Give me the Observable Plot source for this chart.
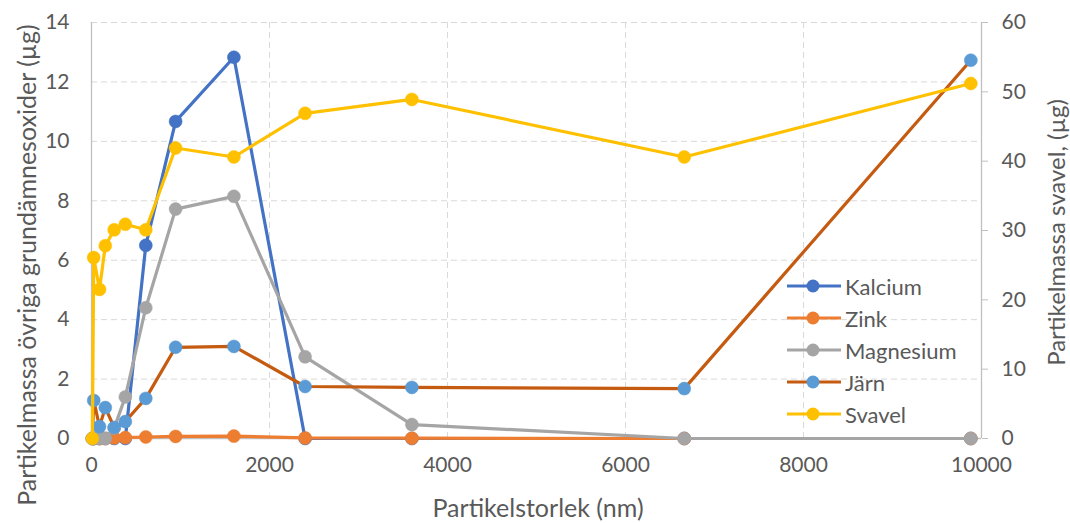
<!DOCTYPE html>
<html><head><meta charset="utf-8">
<script src="https://cdn.jsdelivr.net/npm/d3@7"></script>
<script src="https://cdn.jsdelivr.net/npm/@observablehq/plot@0.6"></script>
<style>
body{margin:0;background:#fff;}
#wrap{position:relative;width:1070px;height:523px;font-family:Lato,sans-serif;color:#595959;overflow:hidden;}
#legend{position:absolute;left:787px;top:270px;}
.item{display:flex;align-items:center;height:32px;font-size:22px;}
.item svg{margin-right:4px;}
.title{position:absolute;font-size:25px;white-space:nowrap;}
</style></head>
<body><div id="wrap"><div id="chart"></div><div id="legend"></div>
<div class="title" id="xt">Partikelstorlek (nm)</div>
<div class="title" id="yl">Partikelmassa övriga grundämnesoxider (µg)</div>
<div class="title" id="yr" style="font-size:24px">Partikelmassa svavel, (µg)</div>
</div>
<script>
// Data (particle size in nm)
const sizes = [10, 25, 90, 155, 255, 380, 610, 945, 1600, 2400, 3600, 6660, 9880];
const kalcium   = [0, 0, 0, 0, 0, 0, 6.5, 10.67, 12.83, 0, 0, 0, 0];
const zink      = [0, 0, 0, 0, 0.02, 0.03, 0.05, 0.07, 0.08, 0.02, 0.01, 0, 0];
const magnesium = [0, 0, 0, 0, 0.35, 1.4, 4.4, 7.72, 8.15, 2.75, 0.47, 0, 0];
const jarn      = [0, 1.28, 0.4, 1.04, 0.37, 0.57, 1.35, 3.07, 3.1, 1.75, 1.72, 1.68, 12.73];
const svavel    = [0, 26.1, 21.5, 27.8, 30.1, 30.9, 30.1, 41.9, 40.6, 46.9, 48.9, 40.6, 51.2]; // right axis

const seriesNames = ["Kalcium", "Zink", "Magnesium", "Järn", "Svavel"];
const seriesValues = [kalcium, zink, magnesium, jarn, svavel];
const lineColors = ["#4472C4", "#ED7D31", "#A5A5A5", "#C55A11", "#FFC000"];
const markerColors = ["#4472C4", "#ED7D31", "#A5A5A5", "#5B9BD5", "#FFC000"];
const secondary = [false, false, false, false, true];

const leftTicks = [0, 2, 4, 6, 8, 10, 12, 14];
const rightTicks = [0, 10, 20, 30, 40, 50, 60];
const xTicks = [0, 2000, 4000, 6000, 8000, 10000];
const k = 14 / 60; // right axis -> left axis

const marks = [
  Plot.gridY(leftTicks.filter(d => d > 0), {stroke: "#D9D9D9", strokeOpacity: 1, strokeDasharray: "6,4"}),
  Plot.gridX(xTicks.filter(d => d > 0 && d < 10000), {stroke: "#D9D9D9", strokeOpacity: 1, strokeDasharray: "6,4"}),
  Plot.ruleX([0], {stroke: "#BFBFBF", strokeWidth: 1.3}),
  Plot.ruleY([0], {stroke: "#BFBFBF", strokeWidth: 1.3}),
  Plot.ruleX([10000], {stroke: "#BFBFBF", strokeWidth: 1.3}),
  Plot.axisY({anchor: "left", ticks: leftTicks, tickSize: 0, tickPadding: 22, label: null, fontSize: 21}),
  Plot.axisY({anchor: "right", ticks: rightTicks.map(v => v * k), tickFormat: d => Math.round(d / k), tickSize: 6, tickPadding: 14, stroke: "#BFBFBF", label: null, fontSize: 21}),
  Plot.axisX({ticks: xTicks, tickSize: 0, tickPadding: 19, tickFormat: d3.format("d"), label: null, fontSize: 21})
];

seriesNames.forEach((name, s) => {
  const rows = sizes.map((x, i) => ({x, y: secondary[s] ? seriesValues[s][i] * k : seriesValues[s][i]}));
  marks.push(Plot.line(rows, {x: "x", y: "y", stroke: lineColors[s], strokeWidth: 3.2}));
  marks.push(Plot.dot(rows, {x: "x", y: "y", r: 6.5, fill: markerColors[s], stroke: markerColors[s], strokeWidth: 0.5}));
});

const chart = Plot.plot({
  width: 1070, height: 523,
  marginLeft: 91, marginRight: 89, marginTop: 22, marginBottom: 85,
  x: {domain: [0, 10000]},
  y: {domain: [0, 14]},
  style: {fontFamily: "Lato, sans-serif", fontSize: "21px", color: "#595959", background: "white", overflow: "visible"},
  marks
});
document.getElementById("chart").appendChild(chart);

// Legend
const legend = document.getElementById("legend");
seriesNames.forEach((name, s) => {
  const div = document.createElement("div");
  div.className = "item";
  div.innerHTML = `<svg width="54" height="16"><line x1="0" x2="54" y1="8" y2="8" stroke="${lineColors[s]}" stroke-width="3.2"/><circle cx="26" cy="8" r="6.5" fill="${markerColors[s]}"/></svg><span>${name}</span>`;
  legend.appendChild(div);
});

// Titles
const xt = document.getElementById("xt");
xt.style.left = (538 - xt.offsetWidth / 2) + "px"; xt.style.top = (507 - xt.offsetHeight / 2) + "px";
const yl = document.getElementById("yl");
yl.style.left = (26 - yl.offsetWidth / 2) + "px"; yl.style.top = (265 - yl.offsetHeight / 2) + "px"; yl.style.transform = "rotate(-90deg)";
const yr = document.getElementById("yr");
yr.style.left = (1055 - yr.offsetWidth / 2) + "px"; yr.style.top = (232 - yr.offsetHeight / 2) + "px"; yr.style.transform = "rotate(-90deg)";
</script>
</body></html>
